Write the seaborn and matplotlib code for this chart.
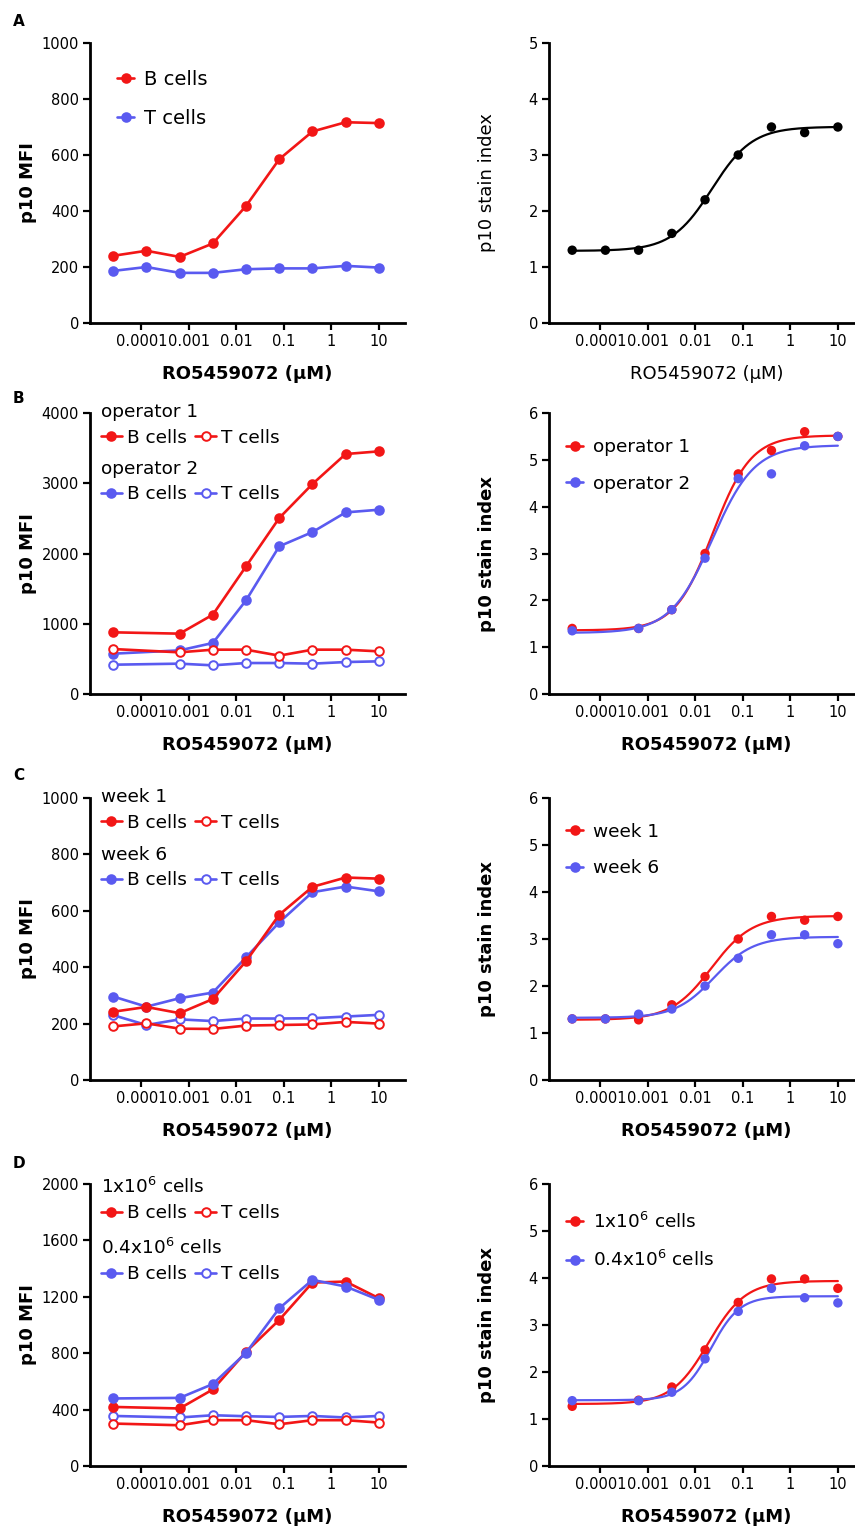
import numpy as np
import pandas as pd
import seaborn as sns
import matplotlib.pyplot as plt
from matplotlib.lines import Line2D
from matplotlib.ticker import NullLocator

# -----------------------------
# Data
# -----------------------------
# RO5459072 concentrations (uM), 5-fold dilutions
conc9 = [0.0000256, 0.000128, 0.00064, 0.0032, 0.016, 0.08, 0.4, 2, 10]
conc8 = [0.0000256, 0.00064, 0.0032, 0.016, 0.08, 0.4, 2, 10]

# A
a_bcells = [240, 258, 236, 284, 418, 585, 684, 717, 714]
a_tcells = [186, 200, 179, 179, 192, 195, 195, 204, 198]
a_index = [1.3, 1.3, 1.3, 1.6, 2.2, 3.0, 3.5, 3.4, 3.5]

# B
b_op1_b = [878, 859, 1129, 1817, 2505, 2989, 3416, 3454]
b_op1_t = [640, 593, 631, 631, 546, 631, 631, 607]
b_op2_b = [574, 621, 726, 1333, 2102, 2305, 2585, 2623]
b_op2_t = [417, 432, 408, 441, 441, 432, 455, 465]
b_op1_index = [1.4, 1.4, 1.8, 3.0, 4.7, 5.2, 5.6, 5.5]
b_op2_index = [1.35, 1.4, 1.8, 2.9, 4.6, 4.7, 5.3, 5.5]

# C
c_w1_b = [242, 259, 237, 287, 421, 586, 685, 718, 714]
c_w1_t = [190, 201, 182, 181, 193, 195, 197, 206, 200]
c_w6_b = [296, 260, 290, 310, 435, 559, 666, 686, 669]
c_w6_t = [230, 195, 215, 209, 218, 218, 219, 225, 231]
c_w1_index = [1.3, 1.3, 1.28, 1.6, 2.2, 3.0, 3.48, 3.4, 3.48]
c_w6_index = [1.3, 1.3, 1.4, 1.51, 2.0, 2.59, 3.09, 3.09, 2.9]

# D
d_hi_b = [419, 408, 543, 810, 1036, 1301, 1308, 1190]
d_hi_t = [301, 289, 325, 325, 296, 325, 325, 308]
d_lo_b = [479, 483, 581, 803, 1118, 1320, 1273, 1178]
d_lo_t = [355, 344, 360, 353, 348, 355, 344, 355]
d_hi_index = [1.27, 1.4, 1.68, 2.47, 3.48, 3.98, 3.98, 3.78]
d_lo_index = [1.39, 1.39, 1.57, 2.28, 3.29, 3.78, 3.58, 3.47]

xtick_vals = [0.0001, 0.001, 0.01, 0.1, 1, 10]
xtick_labels = ["0.0001", "0.001", "0.01", "0.1", "1", "10"]

RED = "#F21616"
BLUE = "#5A5AF0"
XLABEL = "RO5459072 (\u00b5M)"

# -----------------------------
# Styling
# -----------------------------
sns.set_style("ticks")
plt.rcParams["font.family"] = ["DejaVu Sans"]
plt.rcParams.update({"text.color": "black", "axes.labelcolor": "black",
                     "xtick.color": "black", "ytick.color": "black",
                     "axes.edgecolor": "black"})

W, H = 855, 1526
fig = plt.figure(figsize=(W / 100, H / 100), dpi=100)


def px_axes(left, top, right, bottom):
    return fig.add_axes([left / W, 1 - bottom / H, (right - left) / W, (bottom - top) / H])


def style(ax, ymax, ystep, ylabel, bold=True):
    ax.set_xscale("log")
    ax.set_xlim(10 ** -5.08, 10 ** 1.55)
    ax.set_ylim(0, ymax)
    ax.set_yticks(np.arange(0, ymax + ystep / 2, ystep))
    ax.set_xticks(xtick_vals)
    ax.set_xticklabels(xtick_labels)
    ax.xaxis.set_minor_locator(NullLocator())
    ax.tick_params(length=5, width=1.6, labelsize=10.5, pad=3, color="black",
                   labelcolor="black")
    sns.despine(ax=ax)
    for s in ["left", "bottom"]:
        ax.spines[s].set_linewidth(2)
        ax.spines[s].set_color("black")
    w = "bold" if bold else "normal"
    ax.set_xlabel(XLABEL, fontsize=13, fontweight=w, color="black")
    ax.set_ylabel(ylabel, fontsize=13, fontweight=w, color="black")
    ax.xaxis.set_label_coords(0.5, -0.15)
    ax.yaxis.set_label_coords(-0.168, 0.5)


def mfi_line(ax, x, y, color, filled):
    df = pd.DataFrame({"conc": x, "mfi": y})
    sns.lineplot(data=df, x="conc", y="mfi", ax=ax, color=color, lw=1.9,
                 marker="o", markersize=6.2, markeredgewidth=1.4,
                 markeredgecolor=color,
                 markerfacecolor=color if filled else "white",
                 errorbar=None, legend=False)


def fit_curve(x, y):
    # 4-parameter logistic fit: grid over EC50/hill, bottom/top solved linearly
    x = np.asarray(x, float)
    y = np.asarray(y, float)
    logc = np.linspace(-3.5, 0.5, 401)[:, None, None]
    hill = np.linspace(0.5, 2.5, 101)[None, :, None]
    f = 1 / (1 + (10 ** logc / x) ** hill)
    fm = f.mean(-1, keepdims=True)
    ym = y.mean()
    d = ((f - fm) * (y - ym)).sum(-1, keepdims=True) / ((f - fm) ** 2).sum(-1, keepdims=True)
    a = ym - d * fm
    sse = ((a + d * f - y) ** 2).sum(-1)
    i, j = np.unravel_index(sse.argmin(), sse.shape)
    xs = np.logspace(np.log10(x.min()), np.log10(x.max()), 300)
    fs = 1 / (1 + (10 ** logc[i, 0, 0] / xs) ** hill[0, j, 0])
    return xs, a[i, j, 0] + d[i, j, 0] * fs


def index_fit(ax, x, y, color):
    xs, ys = fit_curve(x, y)
    sns.lineplot(x=xs, y=ys, ax=ax, color=color, lw=1.6, errorbar=None)
    sns.scatterplot(x=x, y=y, ax=ax, color=color, s=46, edgecolor="none",
                    legend=False, zorder=3)


def handle(color, filled=True):
    return Line2D([], [], color=color, lw=1.9, marker="o", markersize=6.2,
                  markeredgewidth=1.4, markeredgecolor=color,
                  markerfacecolor=color if filled else "white")


def group_legends(ax, titles, colors, y1, y2):
    common = dict(loc="upper left", frameon=False, ncol=2, fontsize=13.3,
                  title_fontsize=13.3, alignment="left", borderpad=0,
                  borderaxespad=0, handlelength=1.1, handletextpad=0.3,
                  columnspacing=0.45, labelspacing=0.4)
    leg1 = ax.legend([handle(colors[0]), handle(colors[0], False)],
                     ["B cells", "T cells"], title=titles[0],
                     bbox_to_anchor=(0.036, y1), **common)
    ax.add_artist(leg1)
    ax.legend([handle(colors[1]), handle(colors[1], False)],
              ["B cells", "T cells"], title=titles[1],
              bbox_to_anchor=(0.036, y2), **common)


def index_legend(ax, labels, y):
    ax.legend([handle(RED), handle(BLUE)], labels, loc="upper left",
              frameon=False, fontsize=13.3, borderpad=0, borderaxespad=0,
              handlelength=0.9, handletextpad=0.55, labelspacing=1.0,
              bbox_to_anchor=(0.055, y))


# -----------------------------
# Panel A
# -----------------------------
ax = px_axes(90, 43, 405, 323)
mfi_line(ax, conc9, a_tcells, BLUE, True)
mfi_line(ax, conc9, a_bcells, RED, True)
style(ax, 1000, 200, "p10 MFI")
ax.legend([handle(RED), handle(BLUE)], ["B cells", "T cells"], loc="upper left",
          frameon=False, fontsize=14, borderpad=0, borderaxespad=0,
          handlelength=0.9, handletextpad=0.5, labelspacing=1.05,
          bbox_to_anchor=(0.085, 0.905))

ax = px_axes(549, 43, 864, 323)
index_fit(ax, conc9, a_index, "black")
style(ax, 5, 1, "p10 stain index", bold=False)

# -----------------------------
# Panel B
# -----------------------------
ax = px_axes(90, 413, 405, 694)
mfi_line(ax, conc8, b_op2_t, BLUE, False)
mfi_line(ax, conc8, b_op2_b, BLUE, True)
mfi_line(ax, conc8, b_op1_t, RED, False)
mfi_line(ax, conc8, b_op1_b, RED, True)
style(ax, 4000, 1000, "p10 MFI")
group_legends(ax, ["operator 1", "operator 2"], [RED, BLUE], 1.035, 0.834)

ax = px_axes(549, 413, 864, 694)
index_fit(ax, conc8, b_op1_index, RED)
index_fit(ax, conc8, b_op2_index, BLUE)
style(ax, 6, 1, "p10 stain index")
index_legend(ax, ["operator 1", "operator 2"], 0.91)

# -----------------------------
# Panel C
# -----------------------------
ax = px_axes(90, 798, 405, 1080)
mfi_line(ax, conc9, c_w6_t, BLUE, False)
mfi_line(ax, conc9, c_w6_b, BLUE, True)
mfi_line(ax, conc9, c_w1_t, RED, False)
mfi_line(ax, conc9, c_w1_b, RED, True)
style(ax, 1000, 200, "p10 MFI")
group_legends(ax, ["week 1", "week 6"], [RED, BLUE], 1.035, 0.83)

ax = px_axes(549, 798, 864, 1080)
index_fit(ax, conc9, c_w1_index, RED)
index_fit(ax, conc9, c_w6_index, BLUE)
style(ax, 6, 1, "p10 stain index")
index_legend(ax, ["week 1", "week 6"], 0.912)

# -----------------------------
# Panel D
# -----------------------------
ax = px_axes(90, 1184, 405, 1466)
mfi_line(ax, conc8, d_lo_t, BLUE, False)
mfi_line(ax, conc8, d_hi_t, RED, False)
mfi_line(ax, conc8, d_hi_b, RED, True)
mfi_line(ax, conc8, d_lo_b, BLUE, True)
style(ax, 2000, 400, "p10 MFI")
group_legends(ax, ["1x10$^6$ cells", "0.4x10$^6$ cells"], [RED, BLUE], 1.025, 0.81)

ax = px_axes(549, 1184, 864, 1466)
index_fit(ax, conc8, d_hi_index, RED)
index_fit(ax, conc8, d_lo_index, BLUE)
style(ax, 6, 1, "p10 stain index")
index_legend(ax, ["1x10$^6$ cells", "0.4x10$^6$ cells"], 0.902)

# panel letters
for letter, base in zip("ABCD", [26, 403, 780, 1168]):
    fig.text(13 / W, 1 - base / H, letter, fontsize=11, fontweight="bold",
             va="baseline", ha="left")

plt.savefig("out.png", dpi=100)
plt.close()
